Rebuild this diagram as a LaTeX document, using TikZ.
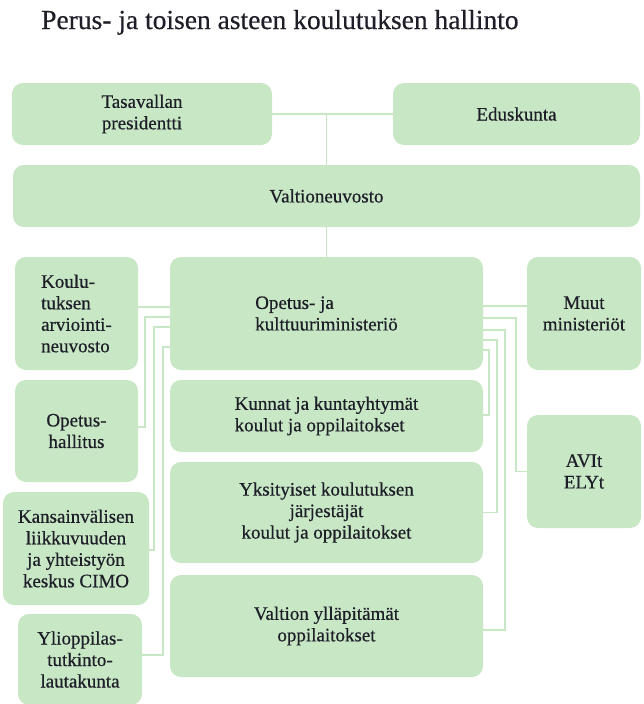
\documentclass[tikz,border=0pt]{standalone}
\usepackage{fontspec}
\setmainfont{Liberation Serif}[FakeBold=0.5]
\usepackage{xcolor}
\usepackage{tikz}

\definecolor{laatikko}{RGB}{199,231,197}
\definecolor{teksti}{RGB}{30,30,40}

\begin{document}
\begin{tikzpicture}[x=1pt, y=-1pt,
    box/.style={rounded corners=11pt, fill=laatikko, draw=none, text=teksti,
                inner sep=2pt, font=\fontsize{19}{21.5}\selectfont},
    link/.style={draw=laatikko, line width=1.8pt}]

    \useasboundingbox (0,0) rectangle (643,704);

    % =================================================================
    % 1. OTSIKKO
    % =================================================================
    \node[anchor=base west, text=teksti, inner sep=0pt,
          font=\fontsize{27.5}{30}\selectfont] (Otsikko) at (41,29)
          {Perus- ja toisen asteen koulutuksen hallinto};

    % =================================================================
    % 2. YLIMMAT TASOT
    % =================================================================
    \node[box, minimum width=260pt, minimum height=62pt, align=center]
          (Presidentti) at (142,114) {Tasavallan\\presidentti};
    \node[box, minimum width=247pt, minimum height=62pt]
          (Eduskunta) at (516.5,114) {Eduskunta};
    \node[box, minimum width=627pt, minimum height=62pt]
          (Valtioneuvosto) at (326.5,196) {Valtioneuvosto};

    % =================================================================
    % 3. KESKISARAKE
    % =================================================================
    \node[box, minimum width=313pt, minimum height=113pt, align=left]
          (Ministerio) at (326.5,313.5) {Opetus- ja\\kulttuuriministeriö};
    \node[box, minimum width=313pt, minimum height=72pt, align=left]
          (Kunnat) at (326.5,416) {Kunnat ja kuntayhtymät\\koulut ja oppilaitokset};
    \node[box, minimum width=313pt, minimum height=101pt, align=center]
          (Yksityiset) at (326.5,512.5) {Yksityiset koulutuksen\\järjestäjät\\koulut ja oppilaitokset};
    \node[box, minimum width=313pt, minimum height=102pt, align=center]
          (Valtion) at (326.5,626) {Valtion ylläpitämät\\oppilaitokset};

    % =================================================================
    % 4. VASEN JA OIKEA SARAKE
    % =================================================================
    \node[box, minimum width=123pt, minimum height=113pt, align=left]
          (Arviointineuvosto) at (76.5,313.5) {Koulu-\\tuksen\\arviointi-\\neuvosto};
    \node[box, minimum width=123pt, minimum height=102pt, align=center]
          (Opetushallitus) at (76.5,431) {Opetus-\\hallitus};
    \node[box, minimum width=146pt, minimum height=113pt, align=center]
          (Cimo) at (76,548.5) {Kansainvälisen\\liikkuvuuden\\ja yhteistyön\\keskus CIMO};
    \node[box, minimum width=124pt, minimum height=91pt, align=center]
          (Ylioppilas) at (80,659.5) {Ylioppilas-\\tutkinto-\\lautakunta};

    \node[box, minimum width=114pt, minimum height=113pt, align=center]
          (MuutMin) at (584,313.5) {Muut\\ministeriöt};
    \node[box, minimum width=114pt, minimum height=113pt, align=center]
          (AviEly) at (584,471.5) {AVIt\\ELYt};

    % =================================================================
    % 5. YHDYSVIIVAT
    % =================================================================
    \draw[link] (Presidentti.east) -- (Eduskunta.west);
    \draw[link] (Valtioneuvosto.north) -- (Valtioneuvosto.north |- Presidentti.east);
    \draw[link] (Valtioneuvosto.south) -- (Ministerio.north);

    % vasemmalle
    \draw[link] ([yshift=6.5pt]Ministerio.west) -- ([yshift=6.5pt]Arviointineuvosto.east);
    \draw[link] ([yshift=-3.5pt]Ministerio.west) -| ([xshift=7pt,yshift=4pt]Opetushallitus.east)
                -- ([yshift=4pt]Opetushallitus.east);
    \draw[link] ([yshift=-13.5pt]Ministerio.west) -| ([xshift=5pt,yshift=-1.5pt]Cimo.east)
                -- ([yshift=-1.5pt]Cimo.east);
    \draw[link] ([yshift=-33.5pt]Ministerio.west) -| ([xshift=21pt,yshift=4.5pt]Ylioppilas.east)
                -- ([yshift=4.5pt]Ylioppilas.east);

    % oikealle
    \draw[link] ([yshift=7.5pt]Ministerio.east) -- ([yshift=7.5pt]MuutMin.west);
    \draw[link] ([yshift=-4.5pt]Ministerio.east) -| ([xshift=-11pt]AviEly.west) -- (AviEly.west);
    \draw[link] ([yshift=-16.5pt]Ministerio.east) -| ([xshift=22pt,yshift=-4pt]Valtion.east)
                -- ([yshift=-4pt]Valtion.east);
    \draw[link] ([yshift=-26.5pt]Ministerio.east) -| ([xshift=14pt]Yksityiset.east) -- (Yksityiset.east);
    \draw[link] ([yshift=-36.5pt]Ministerio.east) -| ([xshift=6pt,yshift=1pt]Kunnat.east)
                -- ([yshift=1pt]Kunnat.east);

\end{tikzpicture}
\end{document}
